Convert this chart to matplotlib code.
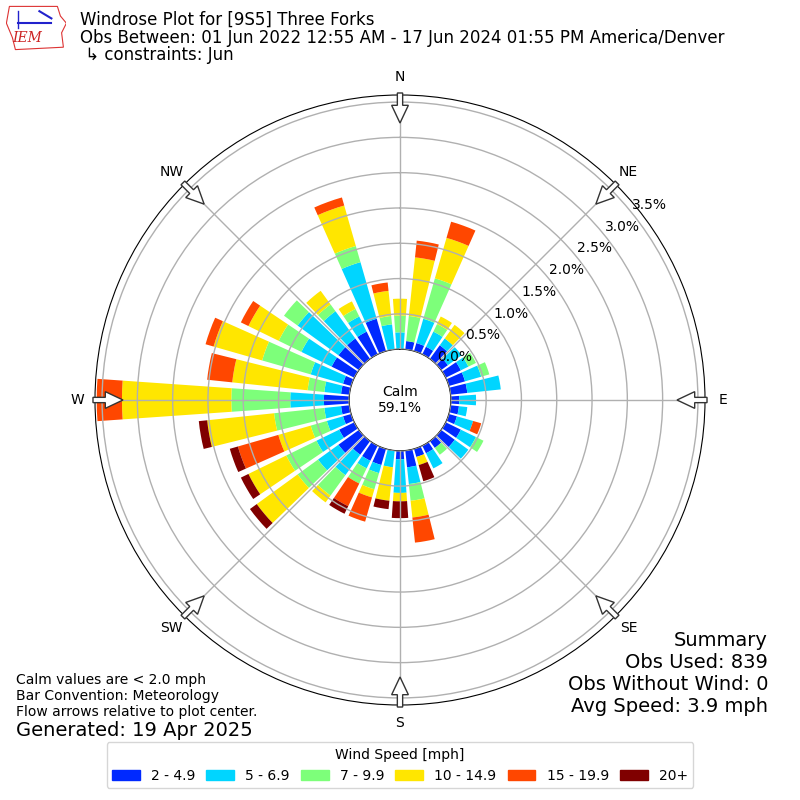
import numpy as np
import matplotlib
matplotlib.use("Agg")
from matplotlib import pyplot as plt
from matplotlib.patches import FancyArrow, Rectangle, Polygon

# wind directions (deg, meteorological, 10 deg bins) and speed bins
directions = np.arange(0, 360, 10)
speed_labels = ["2 - 4.9", "5 - 6.9", "7 - 9.9", "10 - 14.9", "15 - 19.9", "20+"]
compass = ["N", "NE", "E", "SE", "S", "SW", "W", "NW"]

obs_used = 839
calm_percent = 59.1

# observation counts per direction for each speed bin
cnt_2_5 = [0, 1, 1, 1, 2, 1, 2, 2, 2, 1, 1, 1, 2, 2, 1, 1, 1, 2,
           1, 0, 2, 2, 2, 3, 2, 1, 1, 3, 1, 1, 3, 3, 3, 3, 4, 0]
cnt_5_7 = [2, 0, 3, 2, 1, 2, 1, 2, 4, 2, 1, 2, 2, 2, 0, 2, 0, 2,
           4, 2, 1, 1, 3, 3, 3, 2, 2, 4, 2, 4, 4, 6, 4, 2, 7, 3]
cnt_7_10 = [2, 3, 5, 1, 0, 0, 1, 1, 0, 0, 0, 0, 1, 0, 1, 0, 0, 2,
            0, 0, 2, 2, 3, 3, 4, 2, 6, 7, 2, 6, 3, 2, 1, 1, 2, 1]
cnt_10_15 = [2, 7, 5, 1, 2, 0, 0, 0, 0, 0, 0, 0, 0, 0, 0, 0, 1, 2,
             1, 4, 1, 0, 1, 6, 5, 4, 8, 13, 9, 6, 4, 0, 2, 1, 5, 3]
cnt_15_20 = [0, 2, 2, 0, 0, 0, 0, 0, 0, 0, 0, 1, 0, 0, 0, 0, 0, 3,
             0, 0, 3, 3, 0, 0, 0, 5, 0, 3, 3, 1, 1, 0, 0, 0, 1, 1]
cnt_20p = [0, 0, 0, 0, 0, 0, 0, 0, 0, 0, 0, 0, 0, 0, 0, 0, 2, 0,
           2, 1, 0, 1, 0, 1, 1, 1, 1, 0, 0, 0, 0, 0, 0, 0, 0, 0]

rticks = [0.0, 0.5, 1.0, 1.5, 2.0, 2.5, 3.0, 3.5]
rmax = 3.6

series = [cnt_2_5, cnt_5_7, cnt_7_10, cnt_10_15, cnt_15_20, cnt_20p]
colors = plt.cm.jet(np.linspace(0, 1, 7)[1:])

fig = plt.figure(figsize=(8, 8), dpi=100)
ax = fig.add_axes([0.11875, 0.11875, 0.7625, 0.7625], projection="polar")
ax.set_theta_zero_location("N")
ax.set_theta_direction(-1)

theta = np.radians(directions)
width = np.radians(8)
base = np.zeros(len(directions))
for vals, col in zip(series, colors):
    pct = np.array(vals) / obs_used * 100.0
    ax.bar(theta, pct, width=width, bottom=base, color=col, edgecolor="none",
           zorder=1)
    base = base + pct

ax.set_rorigin(-0.2 * rmax)
ax.set_ylim(0, rmax)
ax.set_yticks(rticks)
ax.set_yticklabels([])
ax.set_xticks(np.radians(np.arange(0, 360, 45)))
ax.set_xticklabels(compass, fontsize=10)
ax.tick_params(axis="x", pad=2.5)
ax.grid(True, color="#b0b0b0", lw=1, zorder=2)
ax.set_axisbelow(False)

for v in rticks:
    ax.text(np.radians(52), v + 0.27, f"{v:.1f}%", ha="center", va="center",
            fontsize=10, zorder=5)

ax.text(0.5, 0.5, f"Calm\n{calm_percent:.1f}%", transform=ax.transAxes,
        ha="center", va="center", fontsize=10, zorder=5)

# flow arrows around the edge, pointing at plot center
for ang in np.radians(np.arange(0, 360, 45)):
    r0 = 0.5033
    L = 0.0492
    arr = FancyArrow(0.5 + r0 * np.sin(ang), 0.5 + r0 * np.cos(ang),
                     -L * np.sin(ang), -L * np.cos(ang),
                     width=0.0087, head_width=0.0274, head_length=0.029,
                     length_includes_head=True, transform=ax.transAxes,
                     facecolor="white", edgecolor="#333333", lw=1,
                     clip_on=False, zorder=10)
    ax.add_patch(arr)

# titles
fig.text(0.1, 1 - 20 / 800, "Windrose Plot for [9S5] Three Forks",
         fontsize=12, va="center")
fig.text(0.1, 1 - 38 / 800,
         "Obs Between: 01 Jun 2022 12:55 AM - 17 Jun 2024 01:55 PM America/Denver",
         fontsize=12, va="center")
fig.text(0.1, 1 - 55 / 800, " \u21b3 constraints: Jun", fontsize=12, va="center")

# logo
lax = fig.add_axes([0.008, 0.935, 0.075, 0.06])
lax.set_xlim(0, 1)
lax.set_ylim(0, 1)
lax.axis("off")
lax.add_patch(Polygon([[0.05, 0.95], [0.85, 0.95], [0.9, 0.75], [1.0, 0.6],
                       [0.92, 0.4], [0.95, 0.1], [0.15, 0.05], [0.1, 0.3],
                       [0.0, 0.6]], closed=True, fill=False,
                      edgecolor="#dd3333", lw=0.8))
lax.plot([0.2, 0.75], [0.6, 0.6], color="#2222cc", lw=1.5)
lax.plot([0.2, 0.2], [0.5, 0.85], color="#2222cc", lw=1)
lax.plot([0.55, 0.75], [0.85, 0.7], color="#2222cc", lw=1.5)
lax.text(0.1, 0.2, "IEM", color="#cc2222", fontsize=10, family="serif",
         style="italic")

# notes
fig.text(0.02, 1 - 680 / 800, "Calm values are < 2.0 mph", fontsize=10, va="center")
fig.text(0.02, 1 - 696 / 800, "Bar Convention: Meteorology", fontsize=10, va="center")
fig.text(0.02, 1 - 712 / 800, "Flow arrows relative to plot center.", fontsize=10,
         va="center")
fig.text(0.02, 1 - 730 / 800, "Generated: 19 Apr 2025", fontsize=14, va="center")

summary = ["Summary", f"Obs Used: {obs_used}", "Obs Without Wind: 0",
           "Avg Speed: 3.9 mph"]
for i, s in enumerate(summary):
    fig.text(0.96, 1 - (640 + 22 * i) / 800, s, fontsize=14, ha="right",
             va="center")

handles = [Rectangle((0, 0), 1, 1, color=c) for c in colors]
fig.legend(handles, speed_labels, loc="lower center", bbox_to_anchor=(0.5, 0.006),
           ncol=6, title="Wind Speed [mph]", fontsize=10, title_fontsize=10,
           columnspacing=0.8)

fig.savefig("out.png", dpi=100)
